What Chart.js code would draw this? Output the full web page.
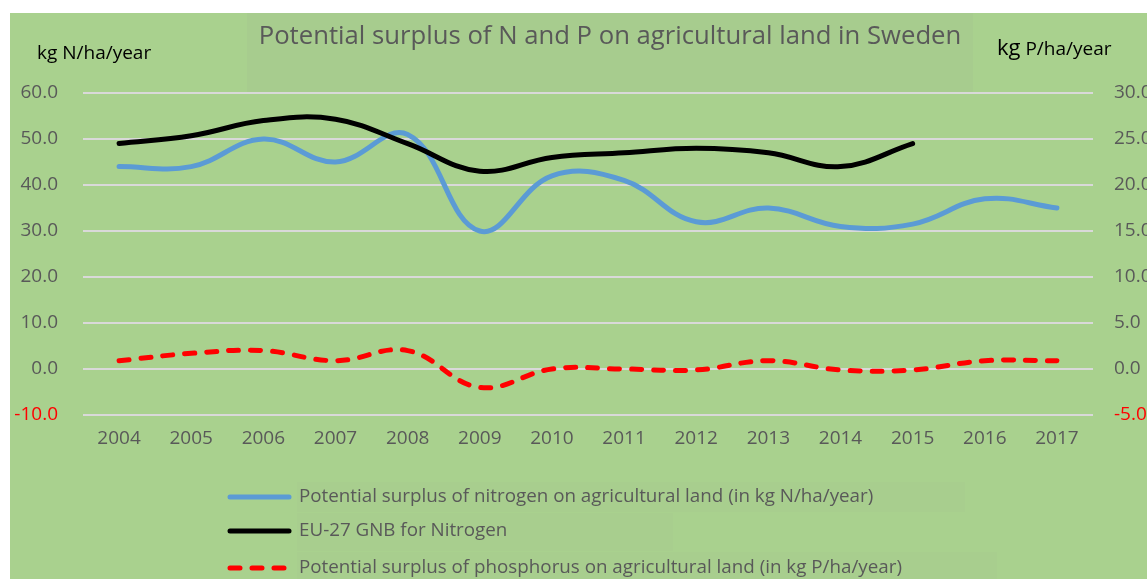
<!DOCTYPE html>
<html>
<head>
<meta charset="utf-8">
<script src="https://cdn.jsdelivr.net/npm/chart.js@4/dist/chart.umd.min.js"></script>
<style>
  html, body { margin: 0; padding: 0; background: #ffffff; }
  #wrap { width: 1147px; height: 579px; position: relative; }
</style>
</head>
<body>
<div id="wrap"><canvas id="c" width="1147" height="579"></canvas></div>
<script>
const years = ['2004','2005','2006','2007','2008','2009','2010','2011','2012','2013','2014','2015','2016','2017'];
const nitrogenSurplus = [44, 44, 50, 45, 51, 30, 42, 41, 32, 35, 31, 31.5, 37, 35];
const euGnbNitrogen = [49, 50.7, 54, 54.3, 49, 43, 46, 47, 48, 47, 44, 49, null, null];
const phosphorusSurplus = [0.9, 1.7, 2.0, 0.9, 2.0, -2.0, 0.0, 0.0, -0.1, 0.9, -0.1, -0.1, 0.9, 0.9];

const titleText = 'Potential surplus of N and P on agricultural land in Sweden';
const leftAxisTitle = 'kg N/ha/year';
const rightAxisTitleA = 'kg';
const rightAxisTitleB = ' P/ha/year';
const seriesLabels = [
  'Potential surplus of nitrogen on agricultural land (in kg N/ha/year)',
  'EU-27 GNB for Nitrogen',
  'Potential surplus of phosphorus on agricultural land (in kg P/ha/year)'
];

const FONT = "'Open Sans', sans-serif";
const GREY = '#595959';
const BG = '#a9d18e';

const decor = {
  id: 'decor',
  beforeDraw(chart) {
    const ctx = chart.ctx, W = chart.width, H = chart.height;
    ctx.save();
    ctx.fillStyle = '#ffffff';
    ctx.fillRect(0, 0, W, H);
    ctx.fillStyle = BG;
    ctx.fillRect(10, 13, W - 10, H - 13);
    // subtle title box
    ctx.fillStyle = 'rgba(150,150,150,0.08)';
    ctx.fillRect(247, 13, 726, 79);
    // subtle legend boxes
    ctx.fillStyle = 'rgba(150,150,150,0.05)';
    ctx.fillRect(297, 482, 668, 30);
    ctx.fillRect(297, 513, 376, 38);
    ctx.fillRect(297, 552, 700, 27);
    ctx.restore();
  },
  afterDraw(chart) {
    const ctx = chart.ctx;
    ctx.save();
    // title
    ctx.fillStyle = GREY;
    ctx.font = '25.7px ' + FONT;
    ctx.textAlign = 'center';
    ctx.textBaseline = 'middle';
    ctx.fillText(titleText, 610, 37);
    // left axis title
    ctx.fillStyle = '#000000';
    ctx.font = '19px ' + FONT;
    ctx.textAlign = 'left';
    ctx.textBaseline = 'alphabetic';
    ctx.fillText(leftAxisTitle, 37, 59);
    // right axis title
    ctx.font = '22px ' + FONT;
    ctx.fillText(rightAxisTitleA, 997, 55);
    const wA = ctx.measureText(rightAxisTitleA).width;
    ctx.font = '19px ' + FONT;
    ctx.fillText(rightAxisTitleB, 997 + wA, 55);
    // legend
    const rows = [497, 531, 568];
    chart.data.datasets.forEach((ds, i) => {
      const y = rows[i];
      ctx.beginPath();
      ctx.strokeStyle = ds.borderColor;
      ctx.lineWidth = ds.borderWidth;
      ctx.lineCap = 'round';
      ctx.setLineDash(ds.borderDash || []);
      ctx.moveTo(230, y);
      ctx.lineTo(289, y);
      ctx.stroke();
      ctx.setLineDash([]);
      ctx.fillStyle = GREY;
      ctx.font = '18.8px ' + FONT;
      ctx.textBaseline = 'middle';
      ctx.fillText(ds.label, 299, y);
    });
    ctx.restore();
  }
};

Chart.defaults.font.family = FONT;

new Chart(document.getElementById('c'), {
  type: 'line',
  data: {
    labels: years,
    datasets: [
      {
        label: seriesLabels[0],
        data: nitrogenSurplus,
        yAxisID: 'y',
        borderColor: '#5b9bd5',
        borderWidth: 5,
        tension: 0.4,
        pointRadius: 0,
        borderCapStyle: 'round',
        order: 2
      },
      {
        label: seriesLabels[1],
        data: euGnbNitrogen,
        yAxisID: 'y',
        borderColor: '#000000',
        borderWidth: 5,
        tension: 0.4,
        pointRadius: 0,
        borderCapStyle: 'round',
        order: 1
      },
      {
        label: seriesLabels[2],
        data: phosphorusSurplus,
        yAxisID: 'y2',
        borderColor: '#ff0000',
        borderWidth: 5,
        borderDash: [10, 12],
        borderCapStyle: 'round',
        tension: 0.4,
        pointRadius: 0,
        order: 0
      }
    ]
  },
  options: {
    responsive: false,
    animation: false,
    events: [],
    layout: { padding: { top: 93, left: 0, right: 0, bottom: 0 } },
    plugins: {
      legend: { display: false },
      tooltip: { enabled: false },
      title: { display: false }
    },
    scales: {
      x: {
        offset: true,
        grid: { display: false, drawTicks: false },
        border: { display: false },
        ticks: { color: GREY, font: { size: 19 }, padding: 12, maxRotation: 0 },
        afterFit(scale) { scale.height = 164; }
      },
      y: {
        position: 'left',
        min: -10, max: 60,
        grid: { color: '#d9d9d9', lineWidth: 2, drawTicks: false },
        border: { display: false },
        ticks: {
          stepSize: 10,
          padding: 25,
          font: { size: 19 },
          color: (c) => (c.tick && c.tick.value < 0 ? '#ff0000' : GREY),
          callback: (v) => Number(v).toFixed(1)
        },
        afterFit(scale) { scale.width = 83; }
      },
      y2: {
        position: 'right',
        min: -5, max: 30,
        grid: { drawOnChartArea: false, drawTicks: false },
        border: { display: false },
        ticks: {
          stepSize: 5,
          padding: 21,
          font: { size: 19 },
          color: (c) => (c.tick && c.tick.value < 0 ? '#ff0000' : GREY),
          callback: (v) => Number(v).toFixed(1)
        },
        afterFit(scale) { scale.width = 54; }
      }
    }
  },
  plugins: [decor]
});
</script>
</body>
</html>
